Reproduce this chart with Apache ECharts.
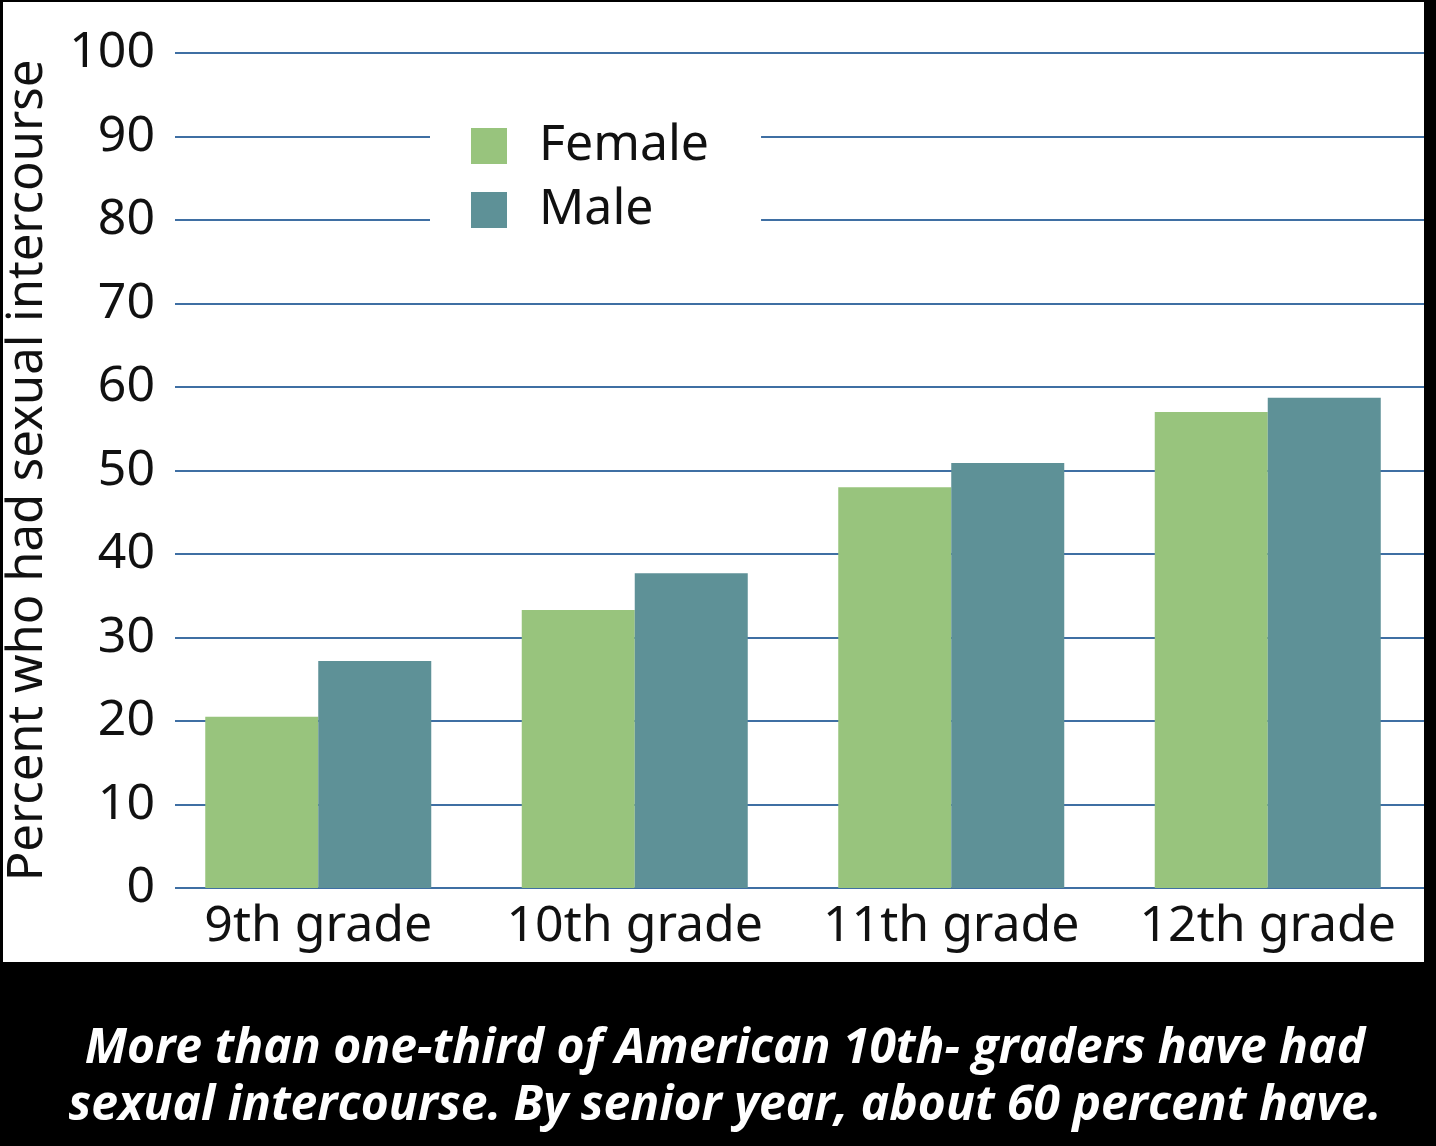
<!DOCTYPE html>
<html>
<head>
<meta charset="utf-8">
<script src="https://cdn.jsdelivr.net/npm/echarts@6/dist/echarts.min.js"></script>
<style>
  html, body { margin: 0; padding: 0; background: #000; }
  #bg { position: absolute; left: 3px; top: 2px; width: 1421px; height: 960px; background: #fff; }
  #chart { position: absolute; left: 0; top: 0; width: 1436px; height: 1146px; }
</style>
</head>
<body>
<div id="bg"></div>
<div id="chart"></div>
<script>
const categories = ['9th grade', '10th grade', '11th grade', '12th grade'];
const femaleValues = [20.5, 33.3, 48.0, 57.0];
const maleValues = [27.2, 37.7, 50.9, 58.7];
const yTicks = { min: 0, max: 100, interval: 10 };
const yTitle = 'Percent who had sexual intercourse';
const caption = 'More than one-third of American 10th- graders have had\nsexual intercourse. By senior year, about 60 percent have.';

const chart = echarts.init(document.getElementById('chart'), null, { renderer: 'canvas' });
const gridColor = '#3f6fa3';
chart.setOption({
  backgroundColor: 'transparent',
  animation: false,
  title: {
    text: caption,
    left: 720,
    top: 1016,
    textAlign: 'center',
    textStyle: {
      color: '#fff',
      fontFamily: 'Open Sans',
      fontWeight: 'bold',
      fontStyle: 'italic',
      fontSize: 48,
      lineHeight: 57
    }
  },
  legend: {
    orient: 'vertical',
    left: 430,
    top: 113,
    padding: [8, 52, 8, 41],
    backgroundColor: '#fff',
    itemWidth: 36,
    itemHeight: 36,
    itemGap: 14,
    icon: 'rect',
    textStyle: { fontFamily: 'Noto Sans', fontSize: 50, color: '#111', lineHeight: 40, padding: [0, 0, 0, 27] },
    data: ['Female', 'Male']
  },
  grid: [
    { left: 175, right: 12, top: 53, bottom: 258, outerBoundsMode: 'none', containLabel: false },
    { left: 160, right: 10, top: 53, bottom: 258, outerBoundsMode: 'none', containLabel: false }
  ],
  xAxis: [
    { type: 'category', gridIndex: 0, data: categories, show: false },
    {
      type: 'category', gridIndex: 1, data: categories,
      axisLine: { show: false }, axisTick: { show: false },
      axisLabel: { fontFamily: 'Noto Sans', fontSize: 50, color: '#111', margin: 14, interval: 0, hideOverlap: false }
    }
  ],
  yAxis: [
    {
      type: 'value', gridIndex: 0, min: yTicks.min, max: yTicks.max, interval: yTicks.interval,
      name: yTitle, nameLocation: 'middle', nameGap: 122,
      nameTextStyle: { fontFamily: 'Noto Sans', fontSize: 49, color: '#111' },
      axisLine: { show: false }, axisTick: { show: false },
      axisLabel: { fontFamily: 'Noto Sans', fontSize: 50, color: '#111', margin: 20 },
      splitLine: { show: true, lineStyle: { color: gridColor, width: 2 } }
    },
    {
      type: 'value', gridIndex: 1, min: yTicks.min, max: yTicks.max, interval: yTicks.interval,
      show: false, splitLine: { show: false }
    }
  ],
  series: [
    {
      name: 'Female', type: 'bar', xAxisIndex: 1, yAxisIndex: 1,
      data: femaleValues, barWidth: 113, barGap: '0%',
      itemStyle: { color: '#98c47d' }
    },
    {
      name: 'Male', type: 'bar', xAxisIndex: 1, yAxisIndex: 1,
      data: maleValues, barWidth: 113, barGap: '0%',
      itemStyle: { color: '#5e9197' }
    }
  ]
});
</script>
</body>
</html>
